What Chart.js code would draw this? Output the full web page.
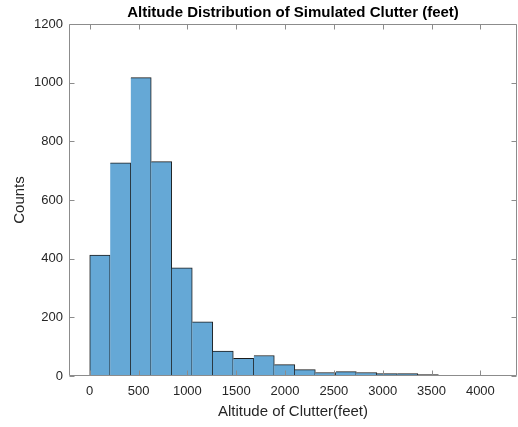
<!DOCTYPE html>
<html>
<head>
<meta charset="utf-8">
<script src="https://cdn.jsdelivr.net/npm/chart.js@4/dist/chart.umd.min.js"></script>
<style>
  html, body { margin: 0; padding: 0; background: #ffffff; }
  #wrap { width: 518px; height: 427px; }
</style>
</head>
<body>
<div id="wrap"><canvas id="c" width="518" height="427"></canvas></div>
<script>
// Histogram bins (feet) and counts per bin
const binEdges = [0, 210, 420, 630, 840, 1050, 1260, 1470, 1680, 1890, 2100,
                  2310, 2520, 2730, 2940, 3150, 3360, 3570, 3780];
const counts = [412, 727, 1017, 731, 369, 185, 85, 60, 70, 39, 22, 12, 15, 12, 8, 8, 5, 2];

// Axis tick values
const xTicks = [0, 500, 1000, 1500, 2000, 2500, 3000, 3500, 4000];
const yTicks = [0, 200, 400, 600, 800, 1000, 1200];

const xRange = [-212, 4375];
const yRange = [0, 1200];

const titleText = 'Altitude Distribution of Simulated Clutter (feet)';
const xLabel = 'Altitude of Clutter(feet)';
const yLabel = 'Counts';

// One bar per bin, centred between its edges
const barData = counts.map((c, i) => ({
  x: (binEdges[i] + binEdges[i + 1]) / 2,
  y: c
}));

const FONT = "'Liberation Sans', Arial, Helvetica, sans-serif";
const AXIS_COLOR = '#8c8c8c';
const TEXT_COLOR = '#262626';

// Boxed axes with short inward ticks on all four sides
const boxPlugin = {
  id: 'boxAxes',
  afterDatasetsDraw(chart) {
    const { ctx, chartArea: a, scales: { x, y } } = chart;
    const L = Math.round(a.left) + 0.5;
    const R = Math.round(a.right) - 0.5;
    const T = Math.round(a.top) + 0.5;
    const B = Math.round(a.bottom) - 0.5;
    const tl = 5;
    ctx.save();
    ctx.strokeStyle = AXIS_COLOR;
    ctx.lineWidth = 1;
    ctx.beginPath();
    ctx.rect(L, T, R - L, B - T);
    x.ticks.forEach(t => {
      const px = Math.round(x.getPixelForValue(t.value)) + 0.5;
      ctx.moveTo(px, B); ctx.lineTo(px, B - tl);
      ctx.moveTo(px, T); ctx.lineTo(px, T + tl);
    });
    y.ticks.forEach(t => {
      const py = Math.round(y.getPixelForValue(t.value)) + 0.5;
      ctx.moveTo(L, py); ctx.lineTo(L + tl, py);
      ctx.moveTo(R, py); ctx.lineTo(R - tl, py);
    });
    ctx.stroke();
    ctx.restore();
  }
};

new Chart(document.getElementById('c'), {
  type: 'bar',
  data: {
    datasets: [{
      data: barData,
      backgroundColor: 'rgb(101,168,214)',
      borderColor: '#1c1c1c',
      borderWidth: ctx => ({ top: 1, right: 1, bottom: 0, left: ctx.dataIndex === 0 ? 1 : 0 }),
      borderSkipped: false,
      barPercentage: 1.0,
      categoryPercentage: 1.0
    }]
  },
  options: {
    responsive: false,
    devicePixelRatio: 1,
    animation: false,
    layout: { padding: { left: 0, right: 1, top: 0, bottom: 0 } },
    plugins: {
      legend: { display: false },
      tooltip: { enabled: false },
      title: {
        display: true,
        text: titleText,
        color: '#000000',
        fullSize: false,
        font: { family: FONT, size: 15, weight: 'bold', lineHeight: 1.2 },
        padding: { top: 3.5, bottom: 2.5 }
      }
    },
    scales: {
      x: {
        type: 'linear',
        offset: false,
        min: xRange[0],
        max: xRange[1],
        afterBuildTicks: s => { s.ticks = xTicks.map(v => ({ value: v })); },
        afterFit: s => { s.height = 51; },
        grid: { display: false, drawTicks: false },
        border: { display: false },
        ticks: {
          color: TEXT_COLOR,
          font: { family: FONT, size: 13 },
          padding: 8,
          maxRotation: 0,
          autoSkip: false,
          callback: v => String(v)
        },
        title: {
          display: true,
          text: xLabel,
          color: TEXT_COLOR,
          font: { family: FONT, size: 15 },
          padding: { top: 0, bottom: 6.5 }
        }
      },
      y: {
        min: yRange[0],
        max: yRange[1],
        afterBuildTicks: s => { s.ticks = yTicks.map(v => ({ value: v })); },
        afterFit: s => { s.width = 69; },
        grid: { display: false, drawTicks: false },
        border: { display: false },
        ticks: {
          color: TEXT_COLOR,
          font: { family: FONT, size: 13 },
          padding: 6,
          autoSkip: false,
          callback: v => String(v)
        },
        title: {
          display: true,
          text: yLabel,
          color: TEXT_COLOR,
          font: { family: FONT, size: 15 },
          padding: { top: 11, bottom: 0 }
        }
      }
    }
  },
  plugins: [boxPlugin]
});
</script>
</body>
</html>
